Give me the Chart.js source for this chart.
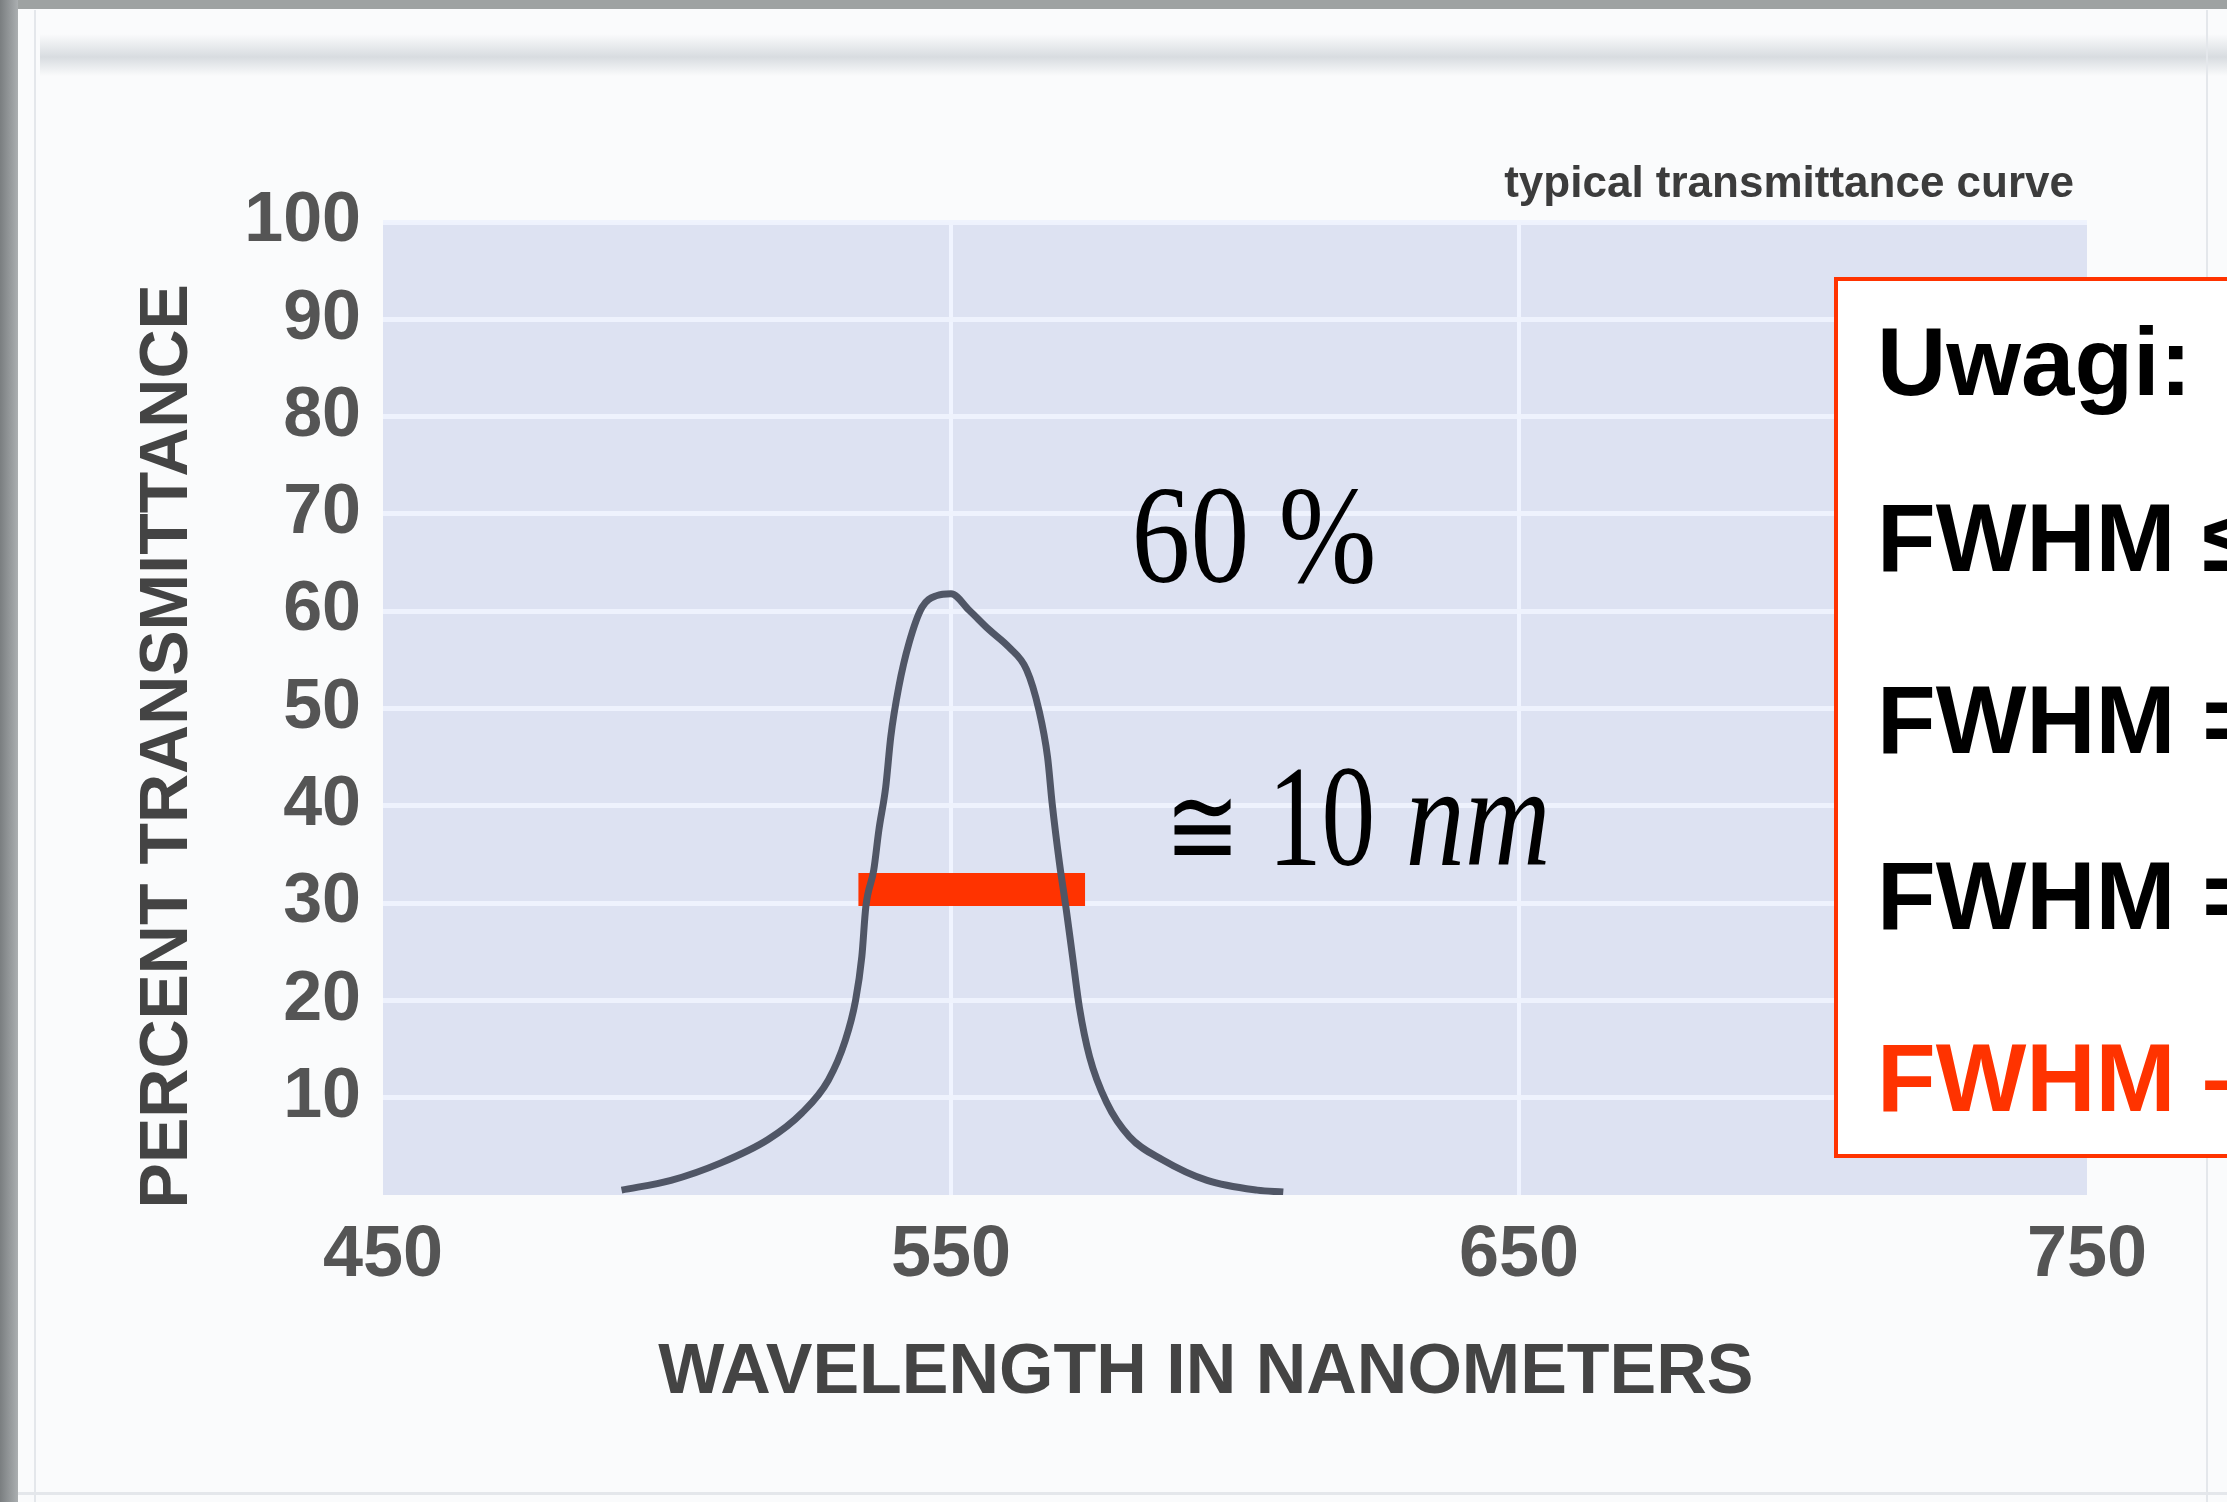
<!DOCTYPE html>
<html>
<head>
<meta charset="utf-8">
<script src="https://cdn.jsdelivr.net/npm/chart.js@4.4.1/dist/chart.umd.min.js"></script>
<style>
	html, body { margin: 0; padding: 0; overflow: hidden; background: #fafbfc; }
	#chart { display: block; }
</style>
</head>
<body>
<canvas id="chart" width="2227" height="1502" style="width:2227px;height:1502px"></canvas>
<script>
// typical transmittance curve
const wavelengths = [492, 500.7, 509.5, 517.8, 523.7, 528.4, 531.4, 533.2, 534.3, 535.0, 536.4, 537.3, 538.5, 539.4, 540.8, 542.6, 544.9, 547.5, 550.0, 553.2, 556.7, 560.2, 563.3, 565.5, 567.0, 567.8, 569.1, 570.3, 571.4, 572.6, 574.4, 577.4, 581.4, 587.3, 595.1, 603.9, 608.5];
const transmittance = [0.5, 1.5, 3.3, 5.7, 8.4, 11.8, 15.9, 20.0, 24.5, 29.6, 33.4, 37.5, 41.9, 47.1, 52.2, 56.7, 60.4, 61.6, 61.8, 60.1, 58.1, 56.3, 54.0, 49.8, 45.0, 40.3, 34.1, 29.3, 24.5, 19.3, 14.2, 9.5, 6.0, 3.6, 1.5, 0.5, 0.3];

// red FWHM bar
const fwhmWavelengths = [533.7, 573.6];
const fwhmLevel = [31.4, 31.4];

const xTicks = [450, 550, 650, 750];
const yTicks = [10, 20, 30, 40, 50, 60, 70, 80, 90, 100];

const notes = ['Uwagi:', 'FWHM \u2264', 'FWHM =', 'FWHM =', 'FWHM \u2013'];

const ctx = document.getElementById('chart');

const sansBold = '"Liberation Sans", Arial, sans-serif';
const serif = '"Liberation Serif", "DejaVu Serif", serif';
// trailing no-break spaces nudge the centred axis titles the way the slide has them
const nudge = (n) => '\u00a0'.repeat(n);

const pageBackground = {
	id: 'pageBackground',
	beforeDraw(chart) {
		const { ctx: c, chartArea: area, width, height } = chart;
		c.save();
		c.fillStyle = '#fafbfc';
		c.fillRect(0, 0, width, height);

		// slide frame
		c.fillStyle = 'rgb(158, 162, 162)';
		c.fillRect(0, 0, width, 9);
		const left = c.createLinearGradient(0, 0, 20, 0);
		left.addColorStop(0, 'rgb(122, 126, 128)');
		left.addColorStop(1, 'rgb(176, 180, 182)');
		c.fillStyle = left;
		c.fillRect(0, 0, 18, height);

		const band = c.createLinearGradient(0, 34, 0, 76);
		band.addColorStop(0, 'rgba(216, 220, 224, 0)');
		band.addColorStop(0.55, 'rgba(216, 220, 224, 1)');
		band.addColorStop(1, 'rgba(216, 220, 224, 0)');
		c.fillStyle = band;
		c.fillRect(40, 34, width - 40, 42);

		c.fillStyle = 'rgb(228, 231, 235)';
		c.fillRect(34, 10, 2, height);
		c.fillRect(2206, 10, 2, height);
		c.fillRect(18, height - 10, width, 3);

		// plot panel
		c.fillStyle = 'rgb(221, 226, 242)';
		c.fillRect(area.left, area.top, area.right - area.left, area.bottom - area.top);
		c.restore();
	},
};

const annotations = {
	id: 'annotations',
	afterDraw(chart) {
		const { ctx: c, scales: { x, y } } = chart;
		c.save();
		c.fillStyle = '#000';
		c.textBaseline = 'alphabetic';

		const squeezed = (text, px, py, font, sx) => {
			c.save();
			c.font = font;
			c.translate(px, py);
			c.scale(sx, 1);
			c.fillText(text, 0, 0);
			c.restore();
		};

		// peak height and width notes
		squeezed('60 %', x.getPixelForValue(581.8), y.getPixelForValue(63), `140px ${serif}`, 0.84);
		squeezed('\u2245', x.getPixelForValue(587.6), y.getPixelForValue(33.9), `112px ${serif}`, 0.8);
		squeezed('10', x.getPixelForValue(605.8), y.getPixelForValue(33.9), `145px ${serif}`, 0.74);
		squeezed('nm', x.getPixelForValue(630.0), y.getPixelForValue(33.9), `italic 145px ${serif}`, 0.82);

		// legend caption
		c.font = `bold 44px ${sansBold}`;
		c.fillStyle = '#3c3c3c';
		c.textAlign = 'right';
		c.fillText('typical transmittance curve', 2074, 197);

		// remarks box, cut by the slide edge
		c.fillStyle = '#fff';
		c.fillRect(1836, 279, 420, 877);
		c.strokeStyle = '#ff3300';
		c.lineWidth = 4;
		c.strokeRect(1836, 279, 420, 877);

		c.textAlign = 'left';
		c.font = `bold 96px ${sansBold}`;
		const baselines = [395, 571, 753, 929, 1111];
		notes.forEach((line, i) => {
			c.fillStyle = i === notes.length - 1 ? '#ff3300' : '#000';
			c.fillText(line, 1877, baselines[i]);
		});
		c.restore();
	},
};

new Chart(ctx, {
	type: 'line',
	data: {
		datasets: [
			{
				label: 'typical transmittance curve',
				data: wavelengths.map((w, i) => ({ x: w, y: transmittance[i] })),
				borderColor: 'rgb(80, 86, 102)',
				borderWidth: 7,
				pointRadius: 0,
				cubicInterpolationMode: 'monotone',
			},
			{
				label: 'FWHM',
				data: fwhmWavelengths.map((w, i) => ({ x: w, y: fwhmLevel[i] })),
				borderColor: '#ff3300',
				borderWidth: 33,
				borderCapStyle: 'butt',
				pointRadius: 0,
			},
		],
	},
	options: {
		responsive: false,
		devicePixelRatio: 1,
		animation: false,
		layout: {
			padding: { top: 222, right: 140, left: 0, bottom: 0 },
		},
		plugins: {
			legend: { display: false },
			tooltip: { enabled: false },
		},
		scales: {
			x: {
				type: 'linear',
				min: 450,
				max: 750,
				afterFit: (scale) => { scale.height = 307; },
				afterBuildTicks: (scale) => { scale.ticks = xTicks.map(v => ({ value: v })); },
				border: { display: false },
				grid: {
					drawTicks: false,
					lineWidth: 4,
					color: (c) => (c.tick && (c.tick.value === 450 || c.tick.value === 750)) ? 'rgba(0,0,0,0)' : 'rgba(240, 244, 255, 0.95)',
				},
				ticks: {
					padding: 18,
					color: '#555',
					font: { family: sansBold, size: 72, weight: 'bold' },
				},
				title: {
					display: true,
					text: 'WAVELENGTH IN NANOMETERS' + nudge(3),
					color: '#444',
					font: { family: sansBold, size: 70, weight: 'bold' },
					padding: { top: 0, bottom: 86 },
				},
			},
			y: {
				min: 0,
				max: 100,
				afterFit: (scale) => { scale.width = 383; },
				afterBuildTicks: (scale) => { scale.ticks = yTicks.map(v => ({ value: v })); },
				border: { display: false },
				grid: {
					drawTicks: false,
					lineWidth: 5,
					color: 'rgba(238, 242, 253, 0.95)',
				},
				ticks: {
					padding: 22,
					color: '#555',
					font: { family: sansBold, size: 70, weight: 'bold' },
				},
				title: {
					display: true,
					text: 'PERCENT TRANSMITTANCE' + nudge(4),
					color: '#444',
					font: { family: sansBold, size: 68, weight: 'bold' },
					padding: { top: 127, bottom: 0 },
				},
			},
		},
	},
	plugins: [pageBackground, annotations],
});
</script>
</body>
</html>
